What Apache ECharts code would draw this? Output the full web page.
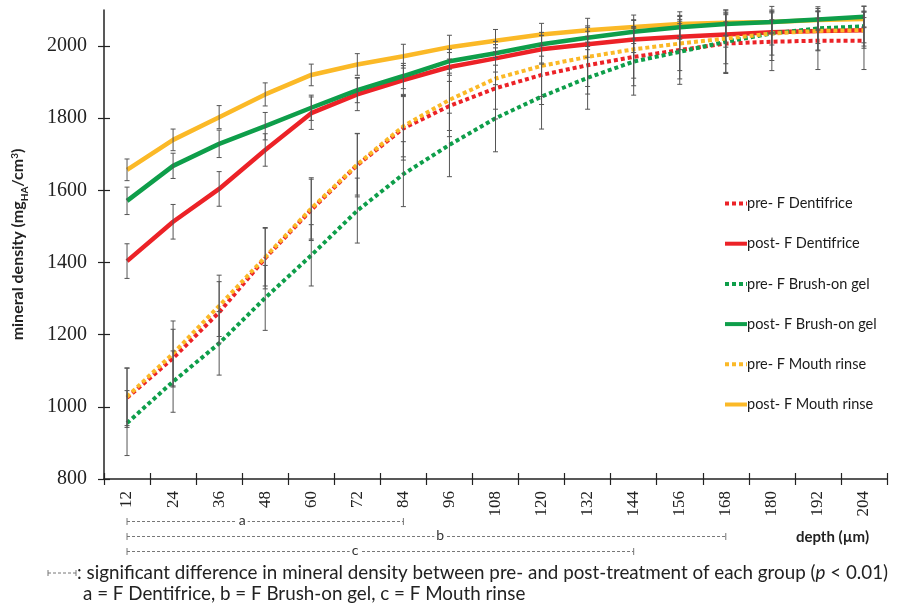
<!DOCTYPE html>
<html>
<head>
<meta charset="utf-8">
<script src="https://cdn.jsdelivr.net/npm/echarts@6/dist/echarts.min.js"></script>
<style>
html,body{margin:0;padding:0;background:#fff;}
#main{width:903px;height:608px;}
</style>
</head>
<body>
<div id="main"></div>
<script>
// ---- data ----
const depths = ['12','24','36','48','60','72','84','96','108','120','132','144','156','168','180','192','204'];
const yTicks = [800, 1000, 1200, 1400, 1600, 1800, 2000];

const preDent   = [1025,1135,1262,1412,1546,1670,1772,1834,1883,1920,1947,1970,1989,2007,2012,2015,2015];
const postDent  = [1404,1513,1604,1712,1814,1866,1906,1942,1966,1991,2005,2018,2026,2032,2038,2042,2044];
const preGel    = [955,1070,1176,1302,1420,1544,1645,1726,1800,1860,1912,1957,1984,2012,2035,2049,2055];
const postGel   = [1571,1668,1729,1778,1829,1878,1917,1958,1980,2005,2023,2040,2052,2061,2067,2074,2081];
const preRinse  = [1028,1148,1280,1415,1550,1672,1778,1851,1910,1945,1970,1991,2007,2021,2035,2042,2044];
const postRinse = [1657,1740,1803,1866,1920,1949,1972,1997,2015,2032,2044,2053,2061,2065,2067,2072,2075];

const sdPreDent   = [82,80,85,85,85,88,88,85,85,82,80,80,80,80,80,80,80];
const sdPostDent  = [48,48,48,45,45,45,40,40,38,38,36,36,36,35,35,35,35];
const sdPreGel    = [90,85,88,90,85,90,90,88,93,90,87,93,90,88,75,60,55];
const sdPostGel   = [38,35,38,38,35,35,35,33,33,33,33,33,33,33,33,30,30];
const sdPreRinse  = [80,90,85,80,85,85,85,85,85,85,82,80,75,70,60,55,50];
const sdPostRinse = [30,30,32,32,30,30,33,33,31,31,33,33,34,35,30,25,22];

const seriesNames = ['pre- F Dentifrice','post- F Dentifrice','pre- F Brush-on gel','post- F Brush-on gel','pre- F Mouth rinse','post- F Mouth rinse'];

// significance brackets: [label, start category, end category, label position (category index)]
const brackets = [
  ['a', '12', '84', 2.5],
  ['b', '12', '168', 6.8],
  ['c', '12', '144', 4.95]
];

// ---- styles ----
const RED = '#EC2227', GREEN = '#0E9E4A', YELLOW = '#FBB927';
const SANS = 'Lato';
const dotted = [4, 3];

const chart = echarts.init(document.getElementById('main'), null, {renderer: 'canvas'});

function lineSeries(name, data, color, pre, z) {
  return {
    name: name, type: 'line', data: data, symbol: 'none', smooth: false,
    z: z,
    lineStyle: {color: color, width: pre ? 4 : 4.5, type: pre ? dotted : 'solid', cap: 'butt'},
    itemStyle: {color: color}
  };
}

function errSeries(vals, sds) {
  return {
    type: 'custom', z: 5, silent: true,
    data: vals.map((v, i) => [i, v - sds[i], v + sds[i]]),
    renderItem: function (params, api) {
      const lo = api.coord([api.value(0), api.value(1)]);
      const hi = api.coord([api.value(0), api.value(2)]);
      const st = {stroke: '#555', lineWidth: 1};
      return {type: 'group', children: [
        {type: 'line', shape: {x1: lo[0], y1: lo[1], x2: hi[0], y2: hi[1]}, style: st},
        {type: 'line', shape: {x1: lo[0]-2.5, y1: lo[1], x2: lo[0]+2.5, y2: lo[1]}, style: st},
        {type: 'line', shape: {x1: hi[0]-2.5, y1: hi[1], x2: hi[0]+2.5, y2: hi[1]}, style: st}
      ]};
    }
  };
}

const option = {
  animation: false,
  backgroundColor: '#fff',
  grid: {left: 104, right: 16, top: 10, bottom: 129, containLabel: false},
  legend: {
    orient: 'vertical', left: 718, top: 191,
    itemWidth: 22, itemHeight: 14, itemGap: 25.2,
    data: seriesNames,
    itemStyle: {opacity: 0},
    lineStyle: {width: 4},
    textStyle: {fontFamily: SANS, fontSize: 14.5, color: '#1a1a1a', padding: [0,0,0,-5]}
  },
  xAxis: [{
    type: 'category', data: depths, boundaryGap: true,
    axisLine: {lineStyle: {color: '#222', width: 1.5}},
    axisTick: {show: true, length: 6, alignWithLabel: false, lineStyle: {color: '#222', width: 1.2}},
    axisLabel: {rotate: 90, fontFamily: 'Liberation Serif', fontSize: 17, color: '#222', margin: 12},
    splitLine: {show: false}
  }, {
    type: 'category', data: depths, boundaryGap: true, position: 'bottom',
    axisLine: {show: false},
    axisTick: {show: true, inside: true, length: 6, lineStyle: {color: '#222', width: 1.2}},
    axisLabel: {show: false}, splitLine: {show: false}
  }],
  yAxis: [{
    type: 'value', min: 800, max: 2100, interval: 200,
    axisLine: {show: true, lineStyle: {color: '#222', width: 1.5}},
    axisTick: {show: true, length: 6, customValues: yTicks, lineStyle: {color: '#222', width: 1.2}},
    axisLabel: {customValues: yTicks, formatter: v => String(v), fontFamily: 'Liberation Serif', fontSize: 20, color: '#222', margin: 17},
    splitLine: {show: false},
    name: '{a|mineral density (mg}{s|HA}{a|/cm}{u|3}{a|)}',
    nameLocation: 'middle', nameRotate: 90, nameGap: 76,
    nameTextStyle: {
      rich: {
        a: {fontFamily: SANS, fontWeight: 'bold', fontSize: 16, color: '#222', lineHeight: 20, verticalAlign: 'middle'},
        s: {fontFamily: SANS, fontWeight: 'bold', fontSize: 10, color: '#222', lineHeight: 20, verticalAlign: 'bottom', padding: [0,0,-2,0]},
        u: {fontFamily: SANS, fontWeight: 'bold', fontSize: 10, color: '#222', lineHeight: 20, verticalAlign: 'top', padding: [2,0,0,0]}
      }
    }
  }, {
    type: 'value', min: 800, max: 2100, interval: 200, position: 'left',
    axisLine: {show: false},
    axisTick: {show: true, inside: true, length: 6, customValues: yTicks, lineStyle: {color: '#222', width: 1.2}},
    axisLabel: {show: false}, splitLine: {show: false}
  }],
  series: [
    lineSeries(seriesNames[0], preDent, RED, true, 2),
    lineSeries(seriesNames[1], postDent, RED, false, 2),
    lineSeries(seriesNames[2], preGel, GREEN, true, 2),
    lineSeries(seriesNames[3], postGel, GREEN, false, 3),
    lineSeries(seriesNames[4], preRinse, YELLOW, true, 3),
    lineSeries(seriesNames[5], postRinse, YELLOW, false, 2),
    errSeries(preDent, sdPreDent),
    errSeries(postDent, sdPostDent),
    errSeries(preGel, sdPreGel),
    errSeries(postGel, sdPostGel),
    errSeries(preRinse, sdPreRinse),
    errSeries(postRinse, sdPostRinse)
  ]
};
chart.setOption(option);

// ---- annotations below the axis, positioned through the category scale ----
function px(cat) { return chart.convertToPixel({xAxisIndex: 0}, cat); }
function pxIdx(f) {
  const i = Math.floor(f), t = f - i;
  const a = px(depths[i]), b = px(depths[Math.min(i + 1, depths.length - 1)]);
  return a + (b - a) * t;
}
const gfx = [];
const dashStyle = {stroke: '#777', lineWidth: 1, lineDash: [3, 2]};
const capStyle = {stroke: '#777', lineWidth: 1};
const rowY = [521.5, 536.5, 551.5];
brackets.forEach((b, k) => {
  const x1 = px(b[1]), x2 = px(b[2]), y = rowY[k];
  gfx.push({type: 'line', shape: {x1: x1, y1: y, x2: x2, y2: y}, style: dashStyle, z: 10});
  gfx.push({type: 'line', shape: {x1: x1, y1: y - 3.5, x2: x1, y2: y + 3.5}, style: capStyle, z: 10});
  gfx.push({type: 'line', shape: {x1: x2, y1: y - 3.5, x2: x2, y2: y + 3.5}, style: capStyle, z: 10});
  gfx.push({type: 'text', x: pxIdx(b[3]), y: y - 1, z: 11,
    style: {text: b[0], fontFamily: SANS, fontSize: 14, fill: '#333', align: 'center', verticalAlign: 'middle',
      backgroundColor: '#fff', padding: [0, 2]}});
});
// legend glyph of the footnote
gfx.push({type: 'line', shape: {x1: 48, y1: 573, x2: 76, y2: 573}, style: dashStyle, z: 10});
gfx.push({type: 'line', shape: {x1: 48, y1: 570, x2: 48, y2: 576}, style: capStyle, z: 10});
gfx.push({type: 'line', shape: {x1: 76, y1: 570, x2: 76, y2: 576}, style: capStyle, z: 10});
gfx.push({type: 'text', x: 77, y: 573, z: 10,
  style: {text: '{n|: significant difference in mineral density between pre- and post-treatment of each group (}{i|p}{n| < 0.01)}',
    verticalAlign: 'middle', align: 'left',
    rich: {n: {fontFamily: SANS, fontSize: 18.8, fill: '#222'}, i: {fontFamily: SANS, fontStyle: 'italic', fontSize: 18.8, fill: '#222'}}}});
gfx.push({type: 'text', x: 83, y: 594, z: 10,
  style: {text: 'a = F Dentifrice, b = F Brush-on gel, c = F Mouth rinse', fontFamily: SANS, fontSize: 18.8, fill: '#222',
    verticalAlign: 'middle', align: 'left'}});
gfx.push({type: 'text', x: 869, y: 537, z: 10,
  style: {text: 'depth (µm)', fontFamily: SANS, fontWeight: 'bold', fontSize: 15, fill: '#222',
    verticalAlign: 'middle', align: 'right'}});
chart.setOption({graphic: {elements: gfx}});
</script>
</body>
</html>
